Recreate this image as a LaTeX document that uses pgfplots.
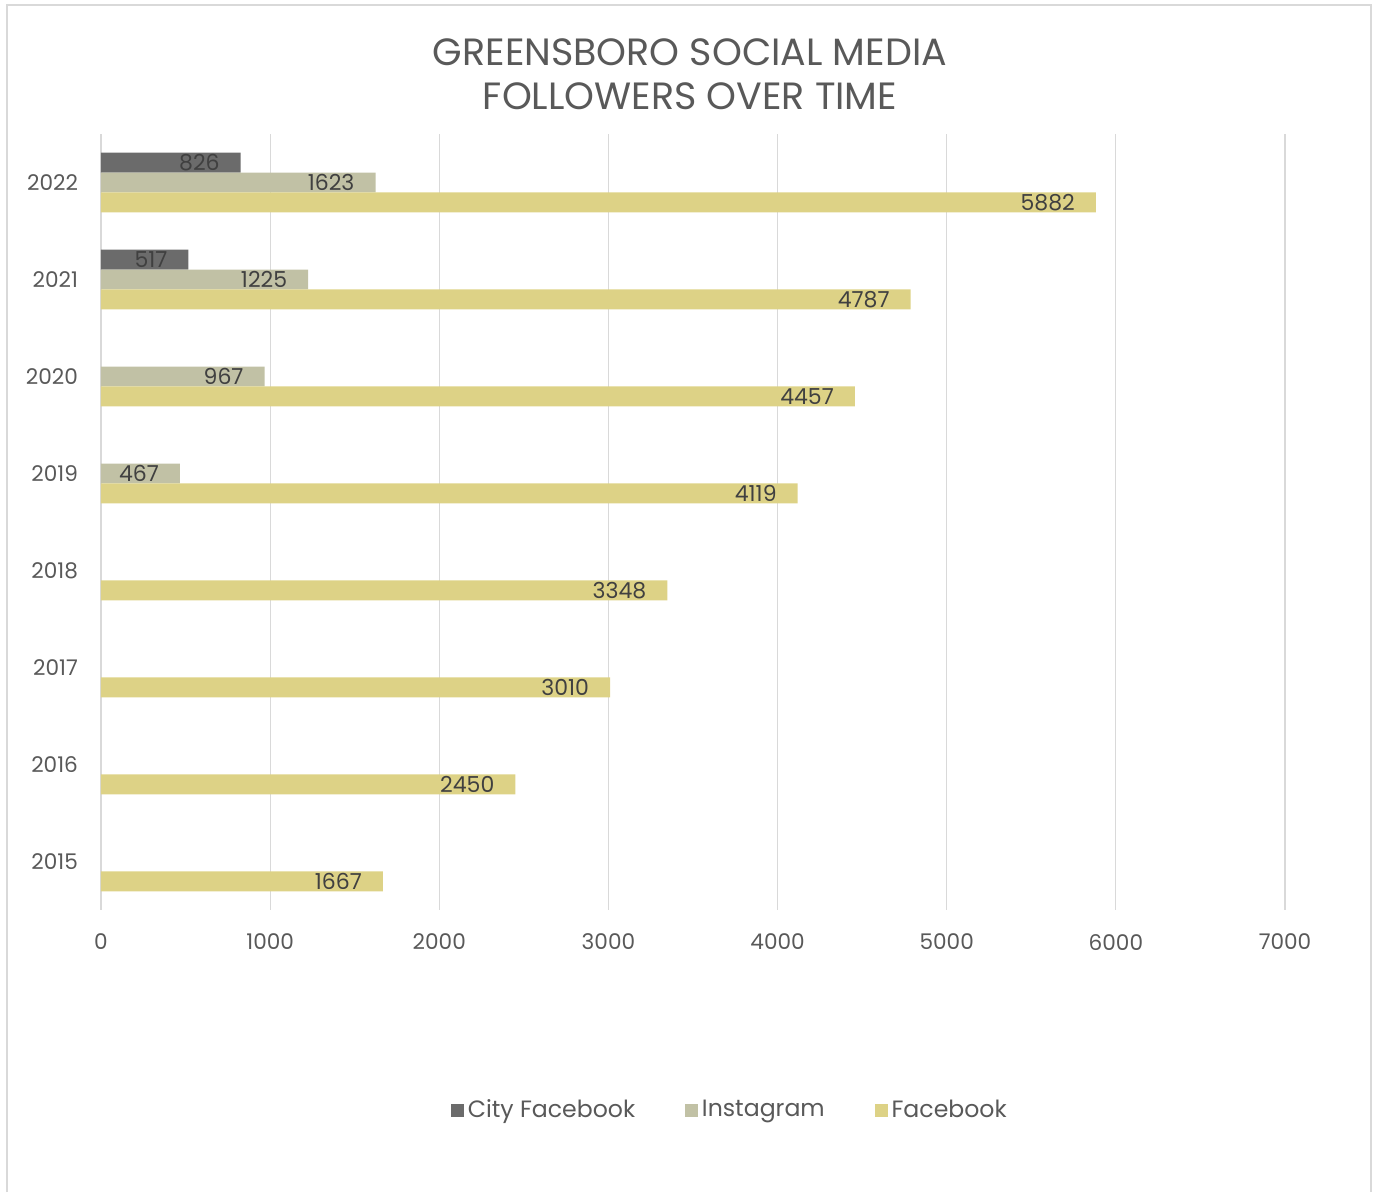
\documentclass[border=0pt]{standalone}
\usepackage{fontspec}
\setmainfont{Poppins}
\usepackage{pgfplots}
\pgfplotsset{compat=1.18}
\definecolor{cityfb}{HTML}{6B6B6B}
\definecolor{insta}{HTML}{C1C1A5}
\definecolor{fb}{HTML}{DDD286}
\definecolor{gridc}{HTML}{D9D9D9}
\definecolor{txt}{HTML}{595959}
\definecolor{lbl}{HTML}{404040}
\begin{document}
\begin{tikzpicture}
\path[use as bounding box] (0pt,0pt) rectangle (689.5pt,596pt);
\draw[gridc, line width=1pt] (3.5pt,0pt) -- (3.5pt,593.5pt) -- (685.5pt,593.5pt) -- (685.5pt,0pt);
\node[txt, align=center, font=\fontsize{19}{22}\selectfont] at (345pt,559pt) {GREENSBORO SOCIAL MEDIA\\FOLLOWERS OVER TIME};
\begin{axis}[
    at={(50.5pt,141pt)}, anchor=south west,
    scale only axis, width=592pt, height=388pt,
    xbar,
    xmin=0, xmax=7000,
    ymin=-0.5, ymax=7.5,
    xtick={0,1000,...,7000},
    ytick={0,...,7},
    yticklabels={2015,2016,2017,2018,2019,2020,2021,2022},
    xticklabel style={/pgf/number format/1000 sep={}},
    tick label style={txt, font=\fontsize{10.8}{12}\selectfont},
    /pgf/number format/assume math mode=true,
    major tick length=0pt,
    xmajorgrids, grid style={gridc, line width=0.6pt},
    axis line style={draw=none},
    bar width=0.206,
    nodes near coords,
    nodes near coords style={anchor=east, xshift=-7pt, lbl, font=\fontsize{11}{12}\selectfont, /pgf/number format/assume math mode=true, /pgf/number format/1000 sep={}},
    legend columns=3,
    legend style={draw=none, at={(0.532,-0.258)}, anchor=center, font=\fontsize{11.8}{13}\selectfont, text=txt,
        /tikz/every even column/.append style={column sep=23pt}},
    legend image code/.code={\fill[#1] (0pt,-3.2pt) rectangle (6.4pt,3.2pt);},
    yticklabel style={xshift=-8pt},
    xticklabel style={yshift=-8.5pt},
]
\addplot[fill=cityfb, draw=none, bar shift=0.206] coordinates {(517,6) (826,7)};
\addplot[fill=insta, draw=none, bar shift=0] coordinates {(467,4) (967,5) (1225,6) (1623,7)};
\addplot[fill=fb, draw=none, bar shift=-0.206] coordinates {(1667,0) (2450,1) (3010,2) (3348,3) (4119,4) (4457,5) (4787,6) (5882,7)};
\legend{City Facebook, Instagram, Facebook}
\end{axis}
\end{tikzpicture}
\end{document}
